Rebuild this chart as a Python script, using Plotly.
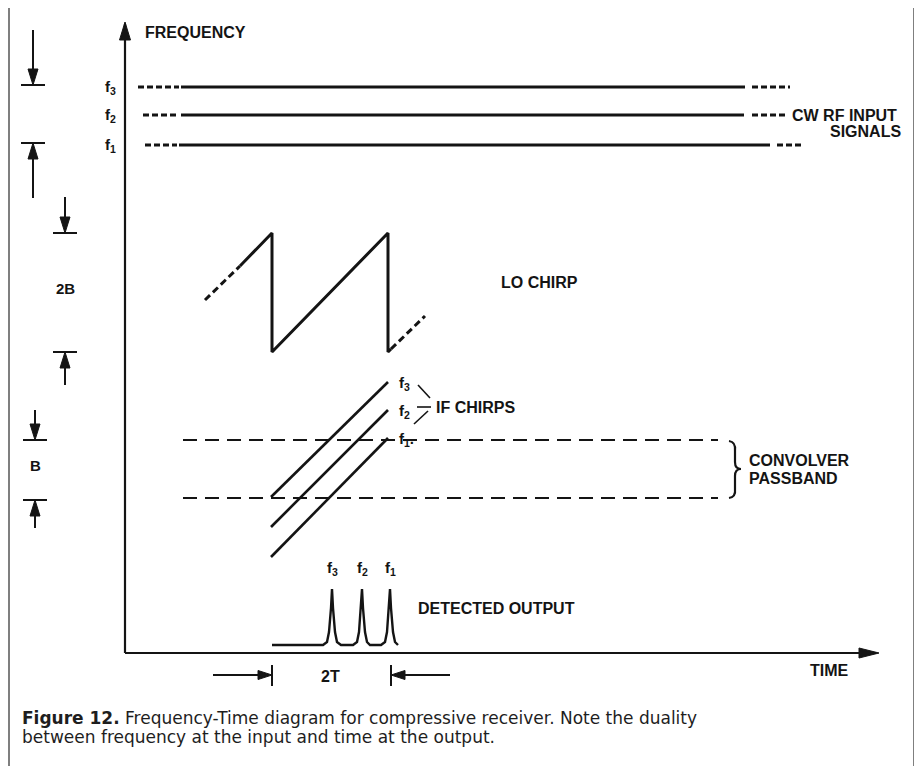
import plotly.graph_objects as go

# ---------------- data (diagram coordinates: x = time-ish px, y = rows from top) ----------------
# Axes
freq_axis_x = [125, 125]
freq_axis_y = [653, 24]
time_axis_x = [125, 876]
time_axis_y = [653, 653]

# CW RF input signals
cw_labels = ["f<sub>3</sub>", "f<sub>2</sub>", "f<sub>1</sub>"]
cw_level = [87, 115, 145]
cw_dash_left_start = [138, 143, 145]
cw_solid_start = [181, 181, 179]
cw_solid_end = [745, 744, 770]
cw_dash_right_start = [752, 752, 777]
cw_dash_right_end = [790, 787, 802]

# LO chirp (sawtooth)
lo_solid_x = [240, 272, 272, 388, 388, 391]
lo_solid_y = [266, 233, 352, 233, 352, 349]
lo_dash_in_x = [205, 240]
lo_dash_in_y = [300, 266]
lo_dash_out_x = [391, 425]
lo_dash_out_y = [349, 316]

# IF chirps
if_labels = ["f<sub>3</sub>", "f<sub>2</sub>", "f<sub>1</sub>."]
if_start_x = [271, 271, 271]
if_start_y = [497, 527, 557]
if_end_x = [388, 388, 388]
if_end_y = [382, 410, 438]

# Convolver passband
pass_x = [183, 718]
pass_levels = [440, 498]

# Detected output (compressed pulses)
det_x = [272, 323, 327, 329, 331, 332, 333, 335, 337, 341,
         353, 357, 359, 361, 362, 363, 365, 367, 370,
         381, 385, 387, 389, 390, 391, 393, 395, 398]
det_y = [645, 645, 642, 632, 608, 589, 608, 632, 642, 645,
         645, 642, 632, 608, 589, 608, 632, 642, 645,
         645, 642, 632, 608, 589, 608, 632, 642, 645]
det_labels = ["f<sub>3</sub>", "f<sub>2</sub>", "f<sub>1</sub>"]
det_label_x = [332, 362, 390]

# Dimension markers on the left
dim_x = [33, 65, 35]
dim_top = [85, 233, 440]
dim_bot = [143, 352, 500]
dim_arrow_from_top = [30, 197, 410]
dim_arrow_from_bot = [198, 385, 528]
dim_labels = ["", "2B", "B"]
dim_label_y = [0, 288, 465]

# 2T marker
t2_left = [213, 272]
t2_right = [450, 391]
t2_y = 675

caption_1 = "<b>Figure 12.</b> Frequency-Time diagram for compressive receiver. Note the duality"
caption_2 = "between frequency at the input and time at the output."

INK = "#141414"
FONT = "Liberation Sans, Arial, Helvetica, sans-serif"
CAP_FONT = "DejaVu Sans, Liberation Sans, Arial, sans-serif"

# page body has an 8px margin: shift the view so diagram coords equal page pixels
OFF = 8

fig = go.Figure()


def line(xs, ys, width=2.5, dash=None, color=INK):
    fig.add_trace(go.Scatter(x=xs, y=ys, mode="lines", hoverinfo="skip",
                             line=dict(color=color, width=width, dash=dash)))


def head(tx, ty, dx, dy, length, width):
    bx, by = tx - dx * length, ty - dy * length
    px, py = -dy, dx
    xs = [tx, bx + px * width / 2, bx - px * width / 2, tx]
    ys = [ty, by + py * width / 2, by - py * width / 2, ty]
    fig.add_trace(go.Scatter(x=xs, y=ys, mode="lines", fill="toself", hoverinfo="skip",
                             fillcolor=INK, line=dict(color=INK, width=1)))


def text(x, y, s, size=16, xanchor="left", bold=True, color=INK, family=FONT):
    fig.add_annotation(x=x, y=y, xref="x", yref="y", text=("<b>%s</b>" % s) if bold else s,
                       showarrow=False, xanchor=xanchor, yanchor="middle",
                       font=dict(family=family, size=size, color=color))


# Axes
line(freq_axis_x, freq_axis_y, width=2.2)
head(125, 22, 0, -1, 18, 11)
line(time_axis_x, time_axis_y, width=2.2)
head(879, 653, 1, 0, 20, 10)
text(143, 32, "FREQUENCY")
text(808, 670, "TIME")

# CW signals
for lab, y, a, b, c, d, e in zip(cw_labels, cw_level, cw_dash_left_start, cw_solid_start,
                                  cw_solid_end, cw_dash_right_start, cw_dash_right_end):
    line([a, b - 2], [y, y], width=3, dash="6px,3px")
    line([b, c], [y, y], width=3)
    line([d, e], [y, y], width=3, dash="6px,3px")
    text(110, y, lab, size=15, xanchor="center")
text(790, 115, "CW RF INPUT")
text(903, 131, "SIGNALS", xanchor="right")

# LO chirp
line(lo_dash_in_x, lo_dash_in_y, width=3, dash="7px,4px")
line(lo_solid_x, lo_solid_y, width=3)
line(lo_dash_out_x, lo_dash_out_y, width=3, dash="7px,4px")
text(499, 282, "LO CHIRP")

# Passband
for y in pass_levels:
    line(pass_x, [y, y], width=2, dash="14px,8px")

# IF chirps
for lab, x0, y0, x1, y1 in zip(if_labels, if_start_x, if_start_y, if_end_x, if_end_y):
    line([x0, x1], [y0, y1], width=2.6)
    text(397, y1 + 1, lab, size=15)
line([418, 430], [385, 398], width=1.6)
line([417, 431], [407, 407], width=1.6)
line([414, 428], [424, 411], width=1.6)
text(434, 407, "IF CHIRPS")

# Brace for passband
brace = "M 729 441 Q 736 442 735 451 L 735 462 Q 735 469 741 469 Q 735 469 735 476 L 735 489 Q 736 497 729 498"
fig.add_shape(type="path", path=brace, xref="x", yref="y", line=dict(color=INK, width=2.2))
text(747, 460, "CONVOLVER")
text(747, 478, "PASSBAND")

# Detected output
line(det_x, det_y, width=2.4)
for lab, x in zip(det_labels, det_label_x):
    text(x, 568, lab, size=15, xanchor="center")
text(416, 608, "DETECTED OUTPUT")

# 2T marker
line([t2_left[0], t2_left[1] - 10], [t2_y, t2_y], width=1.8)
head(t2_left[1], t2_y, 1, 0, 14, 9)
line([t2_left[1], t2_left[1]], [665, 686], width=2)
line([t2_right[0], t2_right[1] + 10], [t2_y, t2_y], width=1.8)
head(t2_right[1], t2_y, -1, 0, 14, 9)
line([t2_right[1], t2_right[1]], [665, 686], width=2)
text(330, 676, "2T", size=16, xanchor="center")

# Left dimension markers
for x, top, bot, atop, abot, lab, ly in zip(dim_x, dim_top, dim_bot, dim_arrow_from_top,
                                             dim_arrow_from_bot, dim_labels, dim_label_y):
    line([x, x], [atop, top - 12], width=2)
    head(x, top, 0, 1, 16, 10)
    line([x - 12, x + 12], [top, top], width=2)
    line([x, x], [abot, bot + 12], width=2)
    head(x, bot, 0, -1, 16, 10)
    line([x - 12, x + 12], [bot, bot], width=2)
    if lab:
        text(x, ly, lab, size=15, xanchor="center")

# Caption
text(20, 718, caption_1, size=17, bold=False, color="#1e1e1e", family=CAP_FONT)
text(20, 737, caption_2, size=17, bold=False, color="#1e1e1e", family=CAP_FONT)

# Frame
fig.add_shape(type="rect", x0=9, y0=5, x1=914, y1=800, xref="x", yref="y",
              line=dict(color="#555555", width=1.5))

fig.update_layout(width=922, height=766, margin=dict(l=0, r=0, t=0, b=0),
                  font=dict(family=FONT, size=15, color=INK),
                  paper_bgcolor="white", plot_bgcolor="white", showlegend=False,
                  xaxis=dict(range=[OFF, 922 + OFF], visible=False, fixedrange=True),
                  yaxis=dict(range=[766 + OFF, OFF], visible=False, fixedrange=True))

fig.write_html("out.html")
